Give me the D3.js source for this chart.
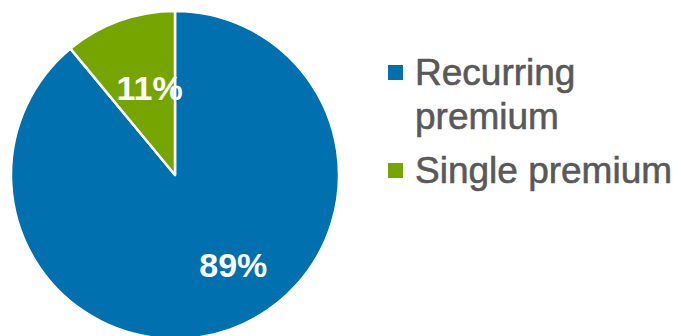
<!DOCTYPE html>
<html lang="en">
<head>
<meta charset="utf-8">
<title>Premium split</title>
<script src="https://cdn.jsdelivr.net/npm/d3@7"></script>
<style>
  body { margin: 0; background: #fff; }
  svg { display: block; }
  .legend text { font-family: "Liberation Sans", Arial, sans-serif; font-size: 37px; fill: #595959; stroke: #595959; stroke-width: 0.6px; }
  .pct { font-family: "Liberation Sans", Arial, sans-serif; font-size: 34px; font-weight: bold; fill: #fff; }
</style>
</head>
<body>
<script>
// data
var categories = ["Recurring premium", "Single premium"];
var legendLines = [["Recurring", "premium"], ["Single premium"]];
var shares = [89, 11];
var colours = ["#0070ae", "#76a500"];

var w = 681, h = 336;
var cx = 175, cy = 175, r = 164;

var svg = d3.select("body").append("svg")
  .attr("width", w)
  .attr("height", h);

var pie = d3.pie().sort(null).value(function(d) { return d; });
var arc = d3.arc().innerRadius(0).outerRadius(r);
var color = d3.scaleOrdinal().domain(categories).range(colours);

var g = svg.append("g").attr("transform", "translate(" + cx + "," + cy + ")");

var slices = pie(shares);

g.selectAll("path")
  .data(slices)
  .enter()
  .append("path")
  .attr("d", arc)
  .attr("fill", function(d, i) { return color(categories[i]); })
  .attr("stroke", "#fff")
  .attr("stroke-width", 2.5)
  .attr("stroke-linejoin", "round");

// labels sit a bit off the plain centroid, like the office chart does
var labelArc = d3.arc().innerRadius(0).outerRadius(r * 1.2);
var nudge = [[25, -3], [8, 6]];

g.selectAll("text.pct")
  .data(slices)
  .enter()
  .append("text")
  .attr("class", "pct")
  .attr("text-anchor", "middle")
  .attr("x", function(d, i) { return labelArc.centroid(d)[0] + nudge[i][0]; })
  .attr("y", function(d, i) { return labelArc.centroid(d)[1] + nudge[i][1] + 12; })
  .text(function(d) { return d.data + "%"; });

// legend
var legend = svg.append("g").attr("class", "legend").attr("transform", "translate(388,0)");
var itemY = [65, 163];

var items = legend.selectAll("g")
  .data(categories)
  .enter()
  .append("g")
  .attr("transform", function(d, i) { return "translate(0," + itemY[i] + ")"; });

items.append("rect")
  .attr("width", 15)
  .attr("height", 15)
  .attr("fill", function(d) { return color(d); });

items.append("text")
  .attr("x", 27)
  .attr("y", 20)
  .selectAll("tspan")
  .data(function(d, i) { return legendLines[i]; })
  .enter()
  .append("tspan")
  .attr("x", 27)
  .attr("dy", function(d, j) { return j === 0 ? 0 : 44; })
  .text(function(d) { return d; });
</script>
</body>
</html>
